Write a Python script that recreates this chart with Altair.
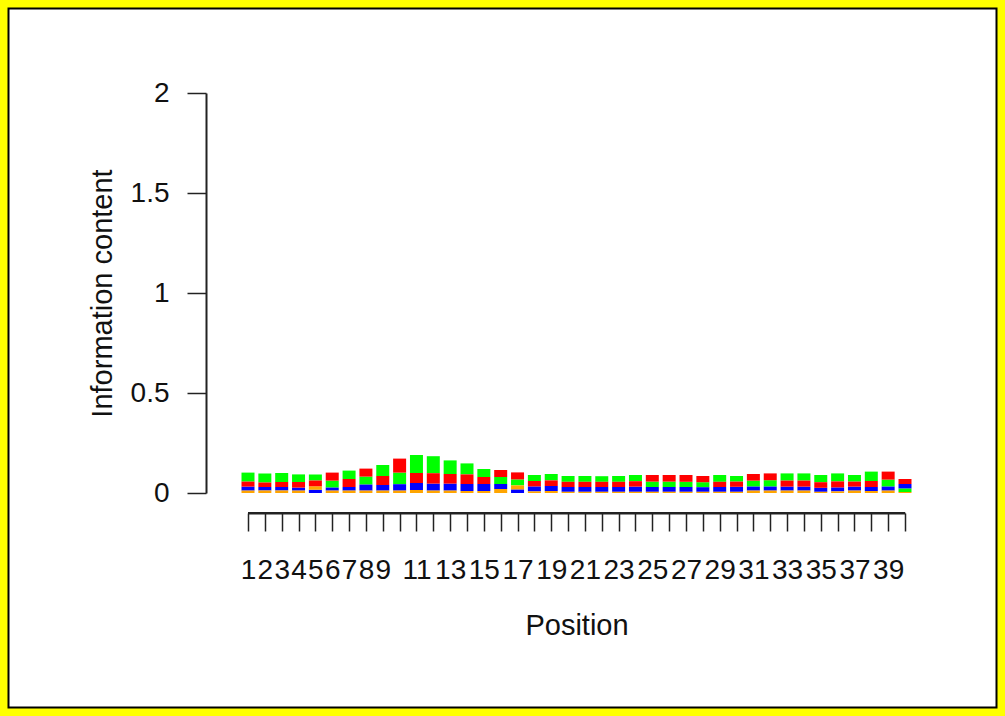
import altair as alt
import pandas as pd

# ---- data (bits per base, 40 positions) ----
positions = list(range(1, 41))
bits_A = [0.045, 0.045, 0.045, 0.038, 0.030, 0.035, 0.042, 0.040, 0.055, 0.058,
          0.090, 0.085, 0.068, 0.055, 0.040, 0.035, 0.030, 0.030, 0.032, 0.029,
          0.029, 0.028, 0.029, 0.031, 0.027, 0.027, 0.026, 0.025, 0.034, 0.028,
          0.030, 0.032, 0.036, 0.036, 0.036, 0.040, 0.033, 0.047, 0.035, 0.018]
bits_C = [0.020, 0.018, 0.018, 0.015, 0.016, 0.015, 0.018, 0.030, 0.028, 0.032,
          0.035, 0.035, 0.035, 0.035, 0.035, 0.025, 0.018, 0.025, 0.025, 0.024,
          0.024, 0.024, 0.024, 0.026, 0.024, 0.024, 0.024, 0.023, 0.024, 0.025,
          0.020, 0.020, 0.020, 0.020, 0.020, 0.020, 0.020, 0.020, 0.020, 0.022]
bits_G = [0.012, 0.012, 0.012, 0.012, 0.018, 0.012, 0.012, 0.012, 0.012, 0.012,
          0.015, 0.012, 0.012, 0.010, 0.010, 0.020, 0.020, 0.008, 0.010, 0.006,
          0.006, 0.006, 0.006, 0.006, 0.006, 0.006, 0.006, 0.006, 0.006, 0.006,
          0.012, 0.012, 0.012, 0.012, 0.006, 0.008, 0.012, 0.010, 0.012, 0.005]
bits_T = [0.025, 0.022, 0.025, 0.028, 0.028, 0.040, 0.040, 0.040, 0.045, 0.070,
          0.050, 0.052, 0.048, 0.048, 0.035, 0.035, 0.035, 0.027, 0.028, 0.026,
          0.026, 0.026, 0.026, 0.027, 0.033, 0.033, 0.034, 0.031, 0.026, 0.026,
          0.033, 0.034, 0.030, 0.030, 0.028, 0.030, 0.025, 0.030, 0.040, 0.025]
bases = ["A", "C", "G", "T"]
base_colors = ["#00FF00", "#0000FF", "#FFA500", "#FF0000"]
y_ticks = [0, 0.5, 1, 1.5, 2]

rows = []
for b, vals in zip(bases, [bits_A, bits_C, bits_G, bits_T]):
    for p, v in zip(positions, vals):
        rows.append({"pos": p, "base": b, "bits": v})
df = pd.DataFrame(rows)

FONT = "Liberation Sans"
xscale = alt.Scale(domain=[positions[0], positions[-1]], nice=False, zero=False, padding=0)
x_axis = alt.Axis(
    values=positions,
    labelExpr="datum.value <= 9 || datum.value % 2 == 1 ? datum.label : ''",
    labelOverlap=False, labelFlush=False,
    domain=True,
    tickSize=18, tickWidth=1.5, tickColor="#222",
    domainWidth=2, domainColor="#222",
    labelFontSize=28, labelFont=FONT, labelColor="#111", labelPadding=25,
    offset=20, grid=False,
    title="Position", titleFontSize=29, titleFont=FONT,
    titleFontWeight="normal", titleColor="#111", titlePadding=27,
)
y_axis = alt.Axis(
    values=y_ticks, format="~g",
    domain=True,
    tickSize=19, tickWidth=1.5, tickColor="#222",
    domainWidth=2, domainColor="#222",
    labelFontSize=28, labelFont=FONT, labelColor="#111", labelPadding=18,
    offset=42, grid=False,
    title="Information content", titleFontSize=29, titleFont=FONT,
    titleFontWeight="normal", titleColor="#111", titlePadding=13,
)

# page frame: yellow outer band and thin black border (no fill, so axes stay visible)
frame_data = pd.DataFrame({"d": [0]})
yellow_band = alt.Chart(frame_data).mark_rect(
    fill="white", fillOpacity=0, stroke="#FFFF00", strokeWidth=17
).encode(x=alt.value(-248), x2=alt.value(757), y=alt.value(-93), y2=alt.value(623))
black_border = alt.Chart(frame_data).mark_rect(
    fill="white", fillOpacity=0, stroke="black", strokeWidth=2
).encode(x=alt.value(-239.5), x2=alt.value(748.5), y=alt.value(-84.5), y2=alt.value(614.5))

bars = alt.Chart(df).transform_window(
    rank="row_number()", groupby=["pos"], sort=[alt.SortField("bits", order="ascending")]
).mark_bar(size=13).encode(
    x=alt.X("pos:Q", scale=xscale, axis=x_axis),
    y=alt.Y("bits:Q", stack="zero", scale=alt.Scale(domain=[0, 2], nice=False), axis=y_axis),
    color=alt.Color("base:N", scale=alt.Scale(domain=bases, range=base_colors), legend=None),
    order=alt.Order("rank:Q", sort="ascending"),
)

# x-axis base line (spans first to last position, below the plot like R's axis)
xline = alt.Chart(pd.DataFrame({"p0": [positions[0]], "p1": [positions[-1]]})).mark_rule(
    color="#222", strokeWidth=2
).encode(
    x=alt.X("p0:Q", scale=xscale, axis=x_axis), x2="p1:Q", y=alt.value(420)
)

chart = alt.layer(yellow_band, black_border, bars, xline).properties(
    width=657, height=400,
    autosize=alt.AutoSizeParams(type="none"),
    padding={"left": 248, "top": 93, "right": 100, "bottom": 223},
    background="white",
).configure_view(stroke=None)

chart.save("out.html", embed_options={"renderer": "svg", "actions": False})
